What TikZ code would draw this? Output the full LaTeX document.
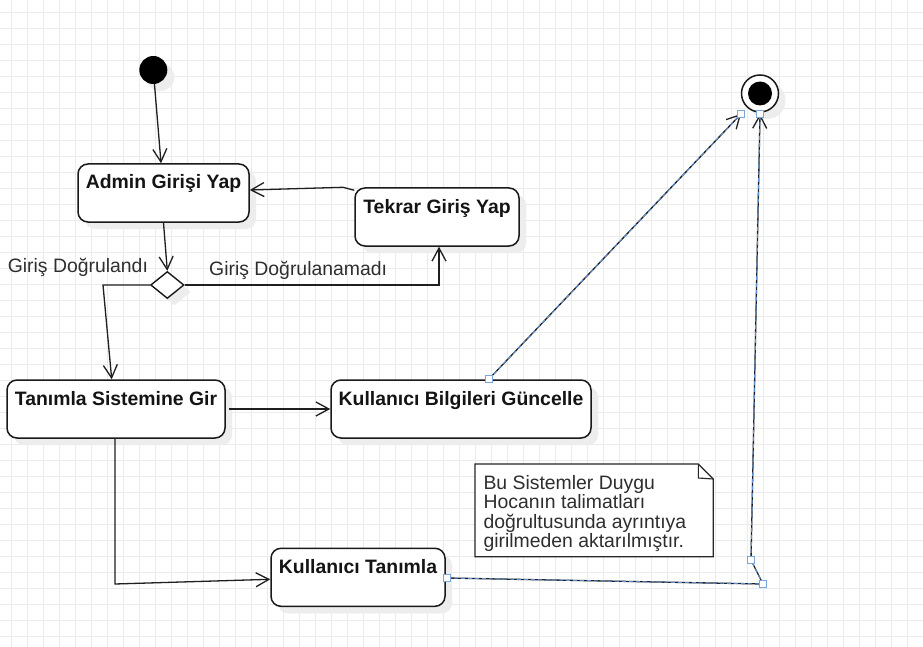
\documentclass[tikz,border=0pt]{standalone}
\usepackage{fontspec}
\setmainfont{Liberation Sans}
\usetikzlibrary{arrows.meta,shapes.geometric,shadows}
\definecolor{gridc}{HTML}{EBEBEB}
\definecolor{selblue}{HTML}{5B8FD6}
\definecolor{handleblue}{HTML}{7AA6DE}
\definecolor{txtgray}{HTML}{2E2E2E}
\begin{document}
\begin{tikzpicture}[x=1pt,y=-1pt,
  shd/.style={drop shadow={shadow xshift=7pt,shadow yshift=-7pt,fill=black!7,opacity=1}},
  actbox/.style={draw=black!90,line width=1.5pt,rounded corners=10pt,fill=white,inner sep=0pt,
    minimum height=58pt,text height=25pt,text depth=33pt,
    font=\fontsize{19.4}{23}\selectfont\bfseries,text=black!92,shd},
  lbl/.style={inner sep=0pt,font=\fontsize{19.4}{23}\selectfont,text=txtgray},
  conn/.style={draw=black!88,line width=1.3pt,-{Straight Barb[length=13pt,width=14pt,line width=1.3pt]}},
  sel/.style={postaction={draw=selblue,arrows=-,line width=1pt,dash pattern=on 4pt off 3pt}},
  handle/.style={draw=handleblue,fill=white,line width=0.9pt,minimum size=7pt,inner sep=0pt,rectangle}]
\useasboundingbox (0,0) rectangle (923,647);
\fill[white] (0,0) rectangle (923,647);
\foreach \x in {11.7,27.7,...,923} \draw[gridc,line width=0.8pt] (\x,0) -- (\x,647);
\foreach \y in {12.3,28.3,...,647} \draw[gridc,line width=0.8pt] (0,\y) -- (923,\y);

% start / end
\node[circle,fill=black,minimum size=28pt,inner sep=0pt,shd] (start) at (153.3,70) {};
\node[circle,draw=black!90,line width=1.5pt,fill=white,minimum size=37pt,inner sep=0pt,shd] (end) at (760,93.5) {};
\node[circle,fill=black,minimum size=24pt,inner sep=0pt] (endin) at (end) {};

% activities
\node[actbox,minimum width=171pt] (admin) at (163.5,193) {Admin Girişi Yap};
\node[actbox,minimum width=164pt] (tekrar) at (437,217) {Tekrar Giriş Yap};
\node[actbox,minimum width=218pt] (tanimla) at (116,409) {Tanımla Sistemine Gir};
\node[actbox,minimum width=260pt] (bilgi) at (461,409) {Kullanıcı Bilgileri Güncelle};
\node[actbox,minimum width=174pt] (kt) at (358,577.3) {Kullanıcı Tanımla};

% decision
\node[diamond,draw=black!90,line width=1.4pt,fill=white,minimum width=33.4pt,minimum height=27pt,inner sep=0pt,shd] (dec) at (167.3,285) {};

% labels
\node[lbl,anchor=base west] (lab1) at (7.6,272) {Giriş Doğrulandı};
\node[lbl,anchor=base west] (lab2) at (209,275) {Giriş Doğrulanamadı};

% note
\draw[draw=black!85,line width=1.3pt,fill=white] (475,464) -- (698.3,464) -- (713.3,479) -- (713.3,556.7) -- (475,556.7) -- cycle;
\draw[draw=black!85,line width=1.1pt] (698.3,464) -- (698.3,478) -- (713.3,479);
\node[lbl,anchor=north west,align=left,font=\fontsize{19.4}{19.3}\selectfont] (notetext) at (483.3,474.3)
  {\rule{0pt}{15pt}Bu Sistemler Duygu\\Hocanın talimatları\\doğrultusunda ayrıntıya\\girilmeden aktarılmıştır.};

% bend points
\coordinate (k1) at (343,187.3);
\coordinate (k2) at (103,285);
\coordinate (k3) at (115,584);

% connectors
\draw[conn] (start) -- (admin);
\draw[conn] (admin.south) -- (dec.north);
\draw[conn] (dec.east) -| ([xshift=2pt]tekrar.south);
\draw[conn] ([yshift=-3pt]tekrar.north west) -- (k1) -- ([yshift=3pt]admin.east);
\draw[conn] (dec.west) -- (k2) -- ([xshift=-4.3pt]tanimla.north);
\draw[conn] ([xshift=3pt]tanimla.east) -- (bilgi.west);
\draw[conn] ([xshift=-1pt]tanimla.south) -- (k3) -- ([yshift=-2pt]kt.west);

% selected connectors with handles
\coordinate (h1) at (489,379);
\coordinate (h2) at (741,114);
\coordinate (h3) at (447,578);
\coordinate (h4) at (763,584);
\coordinate (h5) at (751,560);
\coordinate (h6) at (760,114);
\draw[conn,sel] (h1) -- (h2);
\draw[conn,sel] (h3) -- (h4) -- (h5) -- (h6);
\foreach \h in {h1,h2,h3,h4,h5,h6} \node[handle] (sq\h) at (\h) {};
\end{tikzpicture}
\end{document}
